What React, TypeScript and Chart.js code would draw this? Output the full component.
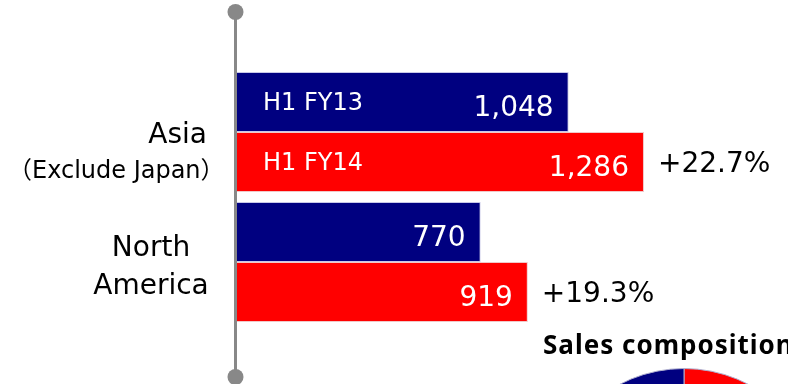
import React, { useEffect, useRef } from "react";
import { Chart, registerables } from "chart.js";

Chart.register(...registerables);

const categories = ["Asia", "North America"];
const categoryLines = [["Asia", "（Exclude Japan）"], ["North", "America"]];
const seriesLabels = ["H1 FY13", "H1 FY14"];
const fy13Values = [1048, 770];
const fy14Values = [1286, 919];
const growthLabels = ["+22.7%", "+19.3%"];
const compositionLabels = ["Segment A", "Segment B"];
const compositionShares = [50, 50];

const NAVY = "#000080";
const RED = "#ff0000";
const FONT = "'DejaVu Sans', 'Noto Sans CJK JP', sans-serif";
const BOLD_FONT = "'Noto Sans', 'Noto Sans CJK JP', sans-serif";

const fmt = (v: number) => v.toLocaleString("en-US");

const decorPlugin = {
  id: "decor",
  afterDatasetsDraw(chart: any) {
    const ctx = chart.ctx as CanvasRenderingContext2D;
    const area = chart.chartArea;
    const yScale = chart.scales.y;
    ctx.save();
    // axis line with round ends
    const ax = area.left - 1.5;
    ctx.strokeStyle = "#888888";
    ctx.fillStyle = "#888888";
    ctx.lineWidth = 3;
    ctx.beginPath();
    ctx.moveTo(ax, 12);
    ctx.lineTo(ax, 377);
    ctx.stroke();
    for (const cy of [12, 377]) {
      ctx.beginPath();
      ctx.arc(ax, cy, 8, 0, Math.PI * 2);
      ctx.fill();
    }

    // value labels inside bars
    chart.data.datasets.forEach((ds: any, di: number) => {
      const meta = chart.getDatasetMeta(di);
      meta.data.forEach((bar: any, i: number) => {
        ctx.fillStyle = "#ffffff";
        ctx.font = `28px ${FONT}`;
        ctx.textAlign = "right";
        ctx.textBaseline = "alphabetic";
        ctx.fillText(fmt(ds.data[i]), bar.x - 15, bar.y + 14);
        if (i === 0) {
          ctx.font = `24px ${FONT}`;
          ctx.textAlign = "left";
          ctx.fillText(seriesLabels[di], area.left + 26, bar.y + 8);
        }
        if (di === 1) {
          ctx.fillStyle = "#000000";
          ctx.font = `28px ${FONT}`;
          ctx.textAlign = "left";
          ctx.fillText(growthLabels[i], bar.x + 14, bar.y + 10);
        }
      });
    });

    // category labels
    ctx.fillStyle = "#000000";
    ctx.textBaseline = "alphabetic";
    const c0 = yScale.getPixelForValue(0);
    ctx.font = `28px ${FONT}`;
    ctx.textAlign = "right";
    ctx.fillText(categoryLines[0][0], 207, c0 + 11.3);
    ctx.font = `24px ${FONT}`;
    ctx.textAlign = "left";
    ctx.fillText(categoryLines[0][1], 8, c0 + 46.3);
    const c1 = yScale.getPixelForValue(1);
    ctx.font = `28px ${FONT}`;
    ctx.textAlign = "center";
    ctx.fillText(categoryLines[1][0], 151, c1 - 6.3);
    ctx.fillText(categoryLines[1][1], 151, c1 + 32.3);

    // pie title
    ctx.font = `bold 26px ${BOLD_FONT}`;
    ctx.textAlign = "left";
    (ctx as any).letterSpacing = "1px";
    ctx.fillText("Sales composition", 543, 353.5);
    ctx.restore();
  },
};

export default function App() {
  const barRef = useRef<HTMLCanvasElement>(null);
  const pieRef = useRef<HTMLCanvasElement>(null);

  useEffect(() => {
    document.body.style.margin = "0";
    const bar = new Chart(barRef.current!, {
      type: "bar",
      data: {
        labels: categories,
        datasets: [
          {
            label: seriesLabels[0],
            data: fy13Values,
            backgroundColor: NAVY,
            borderColor: "#c8c8e8",
            borderWidth: 1,
            categoryPercentage: 120 / 130,
            barPercentage: 1,
          },
          {
            label: seriesLabels[1],
            data: fy14Values,
            backgroundColor: RED,
            borderColor: "#f0c8c8",
            borderWidth: 1,
            categoryPercentage: 120 / 130,
            barPercentage: 1,
          },
        ],
      },
      options: {
        indexAxis: "y",
        responsive: false,
        animation: false,
        devicePixelRatio: 1,
        layout: { padding: { left: 237, right: 13, top: 67, bottom: 57 } },
        plugins: { legend: { display: false }, tooltip: { enabled: false } },
        scales: {
          x: { display: false, min: 0, max: 1700 },
          y: { display: false, offset: true },
        },
      },
      plugins: [decorPlugin],
    });
    const pie = new Chart(pieRef.current!, {
      type: "pie",
      data: {
        labels: compositionLabels,
        datasets: [
          {
            data: compositionShares,
            backgroundColor: [RED, NAVY],
            borderColor: "#b0b0d0",
            borderWidth: 1,
          },
        ],
      },
      options: {
        responsive: false,
        animation: false,
        devicePixelRatio: 1,
        layout: { padding: 0 },
        plugins: { legend: { display: false }, tooltip: { enabled: false } },
      },
    });
    return () => {
      bar.destroy();
      pie.destroy();
    };
  }, []);

  return (
    <div
      style={{
        position: "fixed",
        left: 0,
        top: 0,
        width: 788,
        height: 384,
        overflow: "hidden",
        background: "#ffffff",
      }}
    >
      <canvas
        ref={barRef}
        width={788}
        height={384}
        style={{ position: "absolute", left: 0, top: 0, width: 788, height: 384 }}
      />
      <canvas
        ref={pieRef}
        width={278}
        height={278}
        style={{ position: "absolute", left: 545, top: 368, width: 278, height: 278 }}
      />
    </div>
  );
}
